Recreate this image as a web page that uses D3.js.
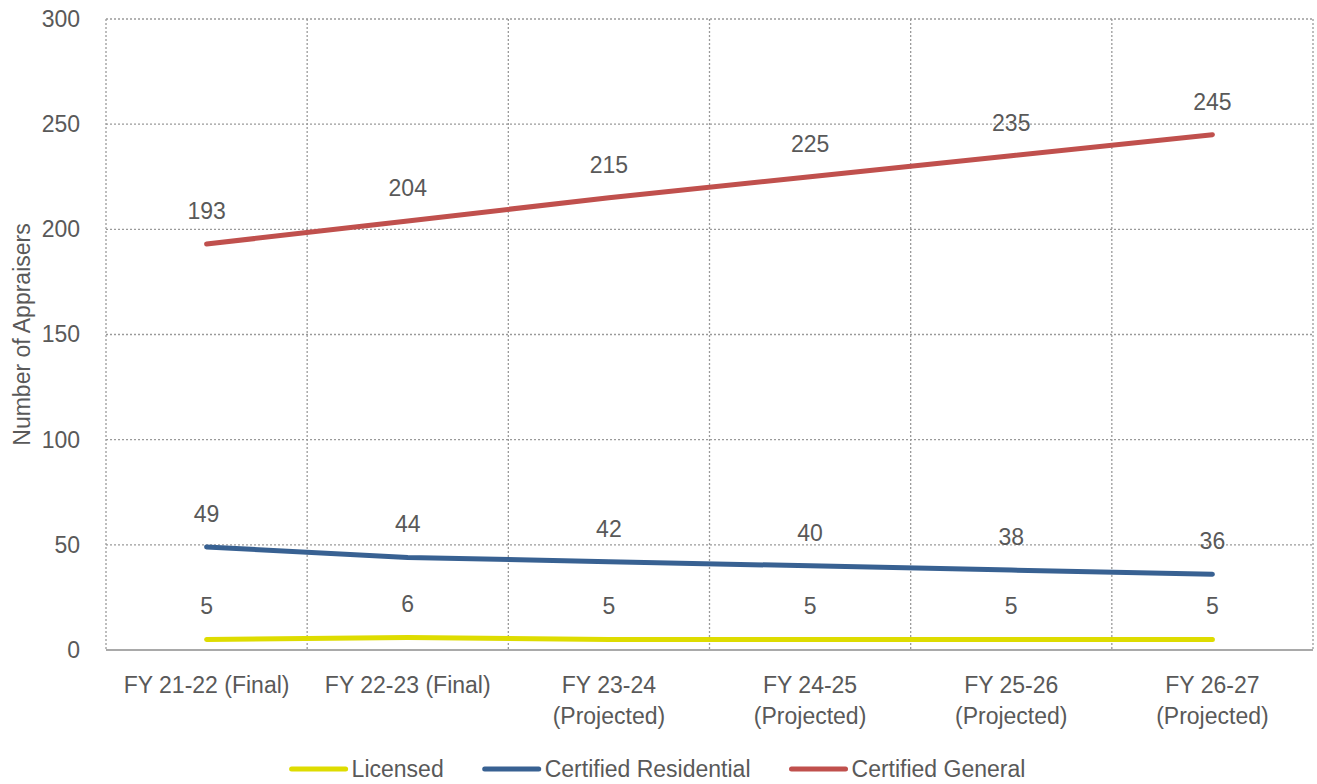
<!DOCTYPE html>
<html>
<head>
<meta charset="utf-8">
<script src="https://cdn.jsdelivr.net/npm/d3@7"></script>
<style>
  html, body { margin: 0; padding: 0; background: #fff; }
  svg { display: block; font-family: "Liberation Sans", Arial, sans-serif; }
</style>
</head>
<body>
<svg id="chart" width="1317" height="784"></svg>
<script>
const categories = [
  ["FY 21-22 (Final)"],
  ["FY 22-23 (Final)"],
  ["FY 23-24", "(Projected)"],
  ["FY 24-25", "(Projected)"],
  ["FY 25-26", "(Projected)"],
  ["FY 26-27", "(Projected)"]
];
const seriesNames = ["Licensed", "Certified Residential", "Certified General"];
const licensed = [5, 6, 5, 5, 5, 5];
const certifiedResidential = [49, 44, 42, 40, 38, 36];
const certifiedGeneral = [193, 204, 215, 225, 235, 245];
const seriesColors = ["#dedc00", "#386192", "#c0504d"];
const yTicks = [0, 50, 100, 150, 200, 250, 300];
const yTitle = "Number of Appraisers";

const series = [licensed, certifiedResidential, certifiedGeneral];
const svg = d3.select("#chart");
const W = 1317, H = 784;
const m = { left: 106, right: 4, top: 19, bottom: 134 };
const textColor = "#595959";
const fs = 23;

const x = d3.scaleBand().domain(d3.range(categories.length)).range([m.left, W - m.right]);
const y = d3.scaleLinear().domain([0, 300]).range([H - m.bottom, m.top]);

const grid = svg.append("g");
grid.selectAll("line.h").data(yTicks.filter(d => d > 0)).enter().append("line")
  .attr("x1", m.left).attr("x2", W - m.right)
  .attr("y1", d => y(d)).attr("y2", d => y(d))
  .attr("stroke", "#9a9a9a").attr("stroke-width", 1.3).attr("stroke-dasharray", "2,2");
const bounds = d3.range(categories.length + 1).map(i => i < categories.length ? x(i) : x(i - 1) + x.bandwidth());
grid.selectAll("line.v").data(bounds).enter().append("line")
  .attr("x1", d => d).attr("x2", d => d)
  .attr("y1", y(300)).attr("y2", y(0))
  .attr("stroke", "#9a9a9a").attr("stroke-width", 1.3).attr("stroke-dasharray", "2,2");

svg.append("line").attr("x1", m.left).attr("x2", W - m.right)
  .attr("y1", y(0)).attr("y2", y(0)).attr("stroke", "#8c8c8c").attr("stroke-width", 1.5);

const yAxis = d3.axisLeft(y).tickValues(yTicks).tickSize(0).tickPadding(26);
const ya = svg.append("g").attr("transform", `translate(${m.left},0)`).call(yAxis);
ya.select(".domain").remove();
ya.selectAll("text").attr("font-size", fs).attr("fill", textColor).attr("font-family", null);

const xl = svg.append("g");
categories.forEach((lines, i) => {
  const t = xl.append("text").attr("x", x(i) + x.bandwidth() / 2).attr("y", 693)
    .attr("text-anchor", "middle").attr("font-size", fs).attr("fill", textColor);
  lines.forEach((ln, j) => t.append("tspan").attr("x", x(i) + x.bandwidth() / 2).attr("dy", j === 0 ? 0 : 31).text(ln));
});

svg.append("text").attr("transform", `translate(30,${(y(0) + y(300)) / 2}) rotate(-90)`)
  .attr("text-anchor", "middle").attr("font-size", fs).attr("fill", textColor).text(yTitle);

const line = d3.line().x((d, i) => x(i) + x.bandwidth() / 2).y(d => y(d));
series.forEach((s, k) => {
  svg.append("path").datum(s).attr("d", line).attr("fill", "none")
    .attr("stroke", seriesColors[k]).attr("stroke-width", 5).attr("stroke-linecap", "round").attr("stroke-linejoin", "round");
});
series.forEach((s, k) => {
  svg.append("g").selectAll("text").data(s).enter().append("text")
    .attr("x", (d, i) => x(i) + x.bandwidth() / 2).attr("y", d => y(d) - 25)
    .attr("text-anchor", "middle").attr("font-size", fs).attr("fill", textColor).text(d => d);
});

const lg = svg.append("g");
const lineLen = 54, gapTxt = 6, gapItem = 41;
let widths = seriesNames.map(n => {
  const t = lg.append("text").attr("font-size", fs).text(n);
  const w = t.node().getComputedTextLength(); t.remove(); return w;
});
const total = d3.sum(widths) + seriesNames.length * (lineLen + gapTxt) + (seriesNames.length - 1) * gapItem;
let cx = W / 2 - total / 2;
const ly = 769;
seriesNames.forEach((n, k) => {
  lg.append("line").attr("x1", cx).attr("x2", cx + lineLen).attr("y1", ly).attr("y2", ly)
    .attr("stroke", seriesColors[k]).attr("stroke-width", 5).attr("stroke-linecap", "round");
  lg.append("text").attr("x", cx + lineLen + gapTxt).attr("y", ly + 8).attr("font-size", fs)
    .attr("fill", textColor).text(n);
  cx += lineLen + gapTxt + widths[k] + gapItem;
});
</script>
</body>
</html>
